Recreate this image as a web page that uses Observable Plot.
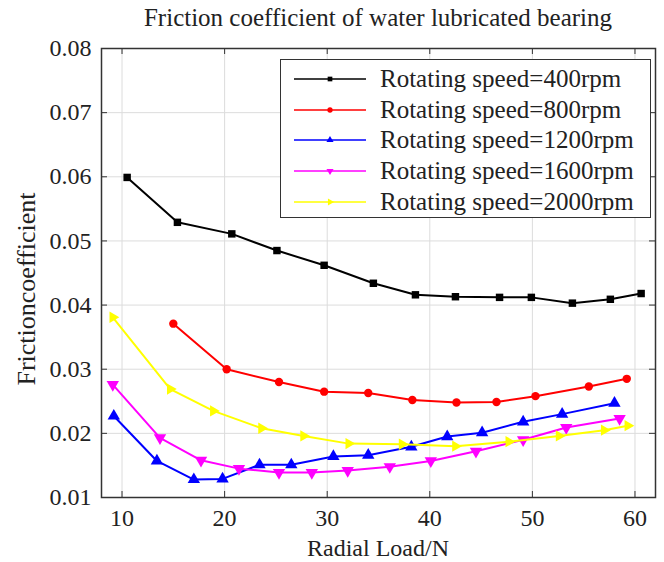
<!DOCTYPE html>
<html><head><meta charset="utf-8">
<script src="https://cdn.jsdelivr.net/npm/d3@7"></script>
<script src="https://cdn.jsdelivr.net/npm/@observablehq/plot@0.6"></script>
<style>
body{margin:0;background:#fff;font-family:"Liberation Serif","Times New Roman",serif;color:#222;}
#wrap{position:relative;width:664px;height:562px;overflow:hidden;}
#title{position:absolute;left:101px;top:0;width:554px;height:36px;line-height:36px;text-align:center;font-size:25px;}
#chart{position:absolute;left:0;top:20px;}
#chart svg, #chart svg text{font-family:"Liberation Serif","Times New Roman",serif !important;}
#xlabel{position:absolute;left:101px;width:554px;top:534px;height:28px;line-height:28px;text-align:center;font-size:24px;}
#ylabel{position:absolute;left:27px;top:289px;transform:translate(-50%,-50%) rotate(-90deg);white-space:nowrap;font-size:26px;}
#legend{position:absolute;left:280px;top:59px;width:371px;height:159px;box-sizing:border-box;border:1.5px solid #333;background:#fff;}
.row{position:absolute;left:0;height:30px;width:100%;}
.row svg{position:absolute;left:13px;top:9px;}
.row span{position:absolute;left:99px;top:0;line-height:30px;font-size:25px;white-space:nowrap;}
</style></head>
<body>
<div id="wrap">
  <div id="title">Friction coefficient of water lubricated bearing</div>
  <div id="chart"></div>
  <div id="xlabel">Radial Load/N</div>
  <div id="ylabel">Frictioncoefficient</div>
  <div id="legend"></div>
</div>
<script>
// ---- data ----
const seriesNames = ["Rotating speed=400rpm","Rotating speed=800rpm","Rotating speed=1200rpm","Rotating speed=1600rpm","Rotating speed=2000rpm"];
const seriesColors = ["#000000","#ff0000","#0000ff","#ff00ff","#ffff00"];
const load400 = [10.5, 15.4, 20.7, 25.1, 29.7, 34.5, 38.6, 42.5, 46.8, 49.9, 53.9, 57.6, 60.6];
const fric400 = [0.0599, 0.0529, 0.0511, 0.0485, 0.0462, 0.0434, 0.0416, 0.0413, 0.0412, 0.0412, 0.0403, 0.0409, 0.0418];
const load800 = [15.0, 20.2, 25.3, 29.7, 34.0, 38.3, 42.6, 46.5, 50.3, 55.5, 59.2];
const fric800 = [0.0371, 0.0300, 0.0280, 0.0265, 0.0263, 0.0252, 0.0248, 0.0249, 0.0258, 0.0273, 0.0285];
const load1200 = [9.2, 13.4, 17.0, 19.8, 23.4, 26.5, 30.6, 34.0, 38.2, 41.7, 45.1, 49.1, 52.9, 58.0];
const fric1200 = [0.0227, 0.0157, 0.0128, 0.0129, 0.0151, 0.0151, 0.0164, 0.0166, 0.0179, 0.0195, 0.0201, 0.0218, 0.0230, 0.0247];
const load1600 = [9.1, 13.7, 17.7, 21.4, 25.3, 28.5, 32.0, 36.1, 40.1, 44.5, 49.1, 53.3, 58.5];
const fric1600 = [0.0276, 0.0193, 0.0158, 0.0145, 0.0139, 0.0139, 0.0142, 0.0148, 0.0157, 0.0172, 0.0190, 0.0209, 0.0223];
const load2000 = [9.1, 14.7, 18.9, 23.6, 27.7, 32.1, 37.3, 42.5, 47.7, 52.6, 57.0, 59.3];
const fric2000 = [0.0381, 0.0269, 0.0235, 0.0208, 0.0196, 0.0184, 0.0183, 0.0180, 0.0187, 0.0196, 0.0205, 0.0212];
const xTicks = [10, 20, 30, 40, 50, 60];
const yTicks = [0.01, 0.02, 0.03, 0.04, 0.05, 0.06, 0.07, 0.08];

// ---- custom symbols ----
const sqrt3 = Math.sqrt(3);
const triDown = {draw(ctx, size){const y = -Math.sqrt(size/(sqrt3*3)); ctx.moveTo(0,-y*2); ctx.lineTo(-sqrt3*y, y); ctx.lineTo(sqrt3*y, y); ctx.closePath();}};
const triUp = {draw(ctx, size){const y = -Math.sqrt(size/(sqrt3*3)); ctx.moveTo(0,y*2); ctx.lineTo(-sqrt3*y,-y); ctx.lineTo(sqrt3*y,-y); ctx.closePath();}};
const triRight = {draw(ctx, size){const y = -Math.sqrt(size/(sqrt3*3)); ctx.moveTo(-y*2,0); ctx.lineTo(y,-sqrt3*y); ctx.lineTo(y,sqrt3*y); ctx.closePath();}};
const seriesSymbols = ["square", "circle", triUp, triDown, triRight];
const seriesR = [4.2, 4.2, 4.6, 4.6, 4.2];

const loads = [load400, load800, load1200, load1600, load2000];
const frics = [fric400, fric800, fric1200, fric1600, fric2000];
const series = seriesNames.map((name, i) => loads[i].map((x, j) => ({x, y: frics[i][j], name})));

const serif = '"Liberation Serif","Times New Roman",serif';
const W = 664, H = 542, mL = 101, mR = 9, mT = 28, mB = 65;
const fw = W - mL - mR, fh = H - mT - mB;

const marks = [
  Plot.ruleX(xTicks, {stroke: "#dcdcdc", strokeWidth: 1}),
  Plot.ruleY(yTicks, {stroke: "#dcdcdc", strokeWidth: 1}),
  Plot.tickX(xTicks, {stroke: "#333", insetTop: fh - 6}),
  Plot.tickX(xTicks, {stroke: "#333", insetBottom: fh - 6}),
  Plot.tickY(yTicks, {stroke: "#333", insetRight: fw - 6}),
  Plot.tickY(yTicks, {stroke: "#333", insetLeft: fw - 6}),
  Plot.axisX(xTicks, {anchor: "bottom", tickSize: 0, tickPadding: 11, fontSize: 24, fontFamily: serif, fill: "#222", label: null}),
  Plot.axisY(yTicks, {anchor: "left", tickSize: 0, tickPadding: 10, fontSize: 24, fontFamily: serif, fill: "#222", tickFormat: d3.format(".2f"), label: null})
];
series.forEach((data, i) => {
  marks.push(Plot.line(data, {x: "x", y: "y", stroke: seriesColors[i], strokeWidth: 2}));
  marks.push(Plot.dot(data, {x: "x", y: "y", fill: seriesColors[i], stroke: "none", symbol: () => seriesSymbols[i], r: seriesR[i]}));
});
marks.push(Plot.frame({stroke: "#333", strokeWidth: 1.5}));

const chart = Plot.plot({
  width: W, height: H,
  marginLeft: mL, marginRight: mR, marginTop: mT, marginBottom: mB,
  style: {fontFamily: serif, background: "transparent", color: "#222"},
  x: {domain: [8, 62], axis: null},
  y: {domain: [0.01, 0.08], axis: null},
  symbol: {type: "identity"},
  marks
});
document.getElementById("chart").appendChild(chart);

// ---- legend ----
const legend = document.getElementById("legend");
seriesNames.forEach((name, i) => {
  const row = document.createElement("div");
  row.className = "row";
  row.style.top = (4 + i * 30.7) + "px";
  const svg = d3.create("svg").attr("width", 74).attr("height", 12);
  svg.append("line").attr("x1", 0).attr("x2", 72).attr("y1", 6).attr("y2", 6).attr("stroke", seriesColors[i]).attr("stroke-width", 1.6);
  const sym = typeof seriesSymbols[i] === "string" ? (seriesSymbols[i] === "square" ? d3.symbolSquare : d3.symbolCircle) : seriesSymbols[i];
  svg.append("path").attr("transform", "translate(36,6)").attr("d", d3.symbol(sym, 22)()).attr("fill", seriesColors[i]);
  row.appendChild(svg.node());
  const span = document.createElement("span");
  span.textContent = name;
  row.appendChild(span);
  legend.appendChild(row);
});
</script>
</body></html>
